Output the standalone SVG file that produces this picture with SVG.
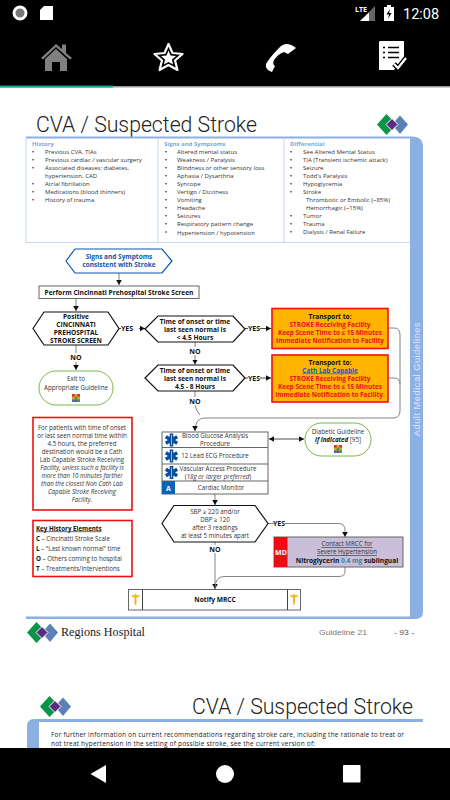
<svg xmlns="http://www.w3.org/2000/svg" width="450" height="800" viewBox="0 0 450 800">
<style>
text{font-family:"Open Sans","Liberation Sans",sans-serif;font-size:6.2px;fill:#333}
#history text,#signs text,#differential text{font-size:6px}
.m{text-anchor:middle}
.b{font-weight:700;fill:#111;font-size:6.600px}
.yn{font-weight:700;fill:#111;font-size:7px}
.h{font-weight:700;fill:#7fa6dc}
.t{font-family:Roboto,"Liberation Sans",sans-serif;font-weight:300;font-size:22.500px;fill:#222}
.red{fill:#e8101c;font-weight:700;font-size:6.400px}
.i{font-style:italic}
.u{text-decoration:underline}
.hex{fill:#fff;stroke:#111;stroke-width:1.200}
.box{fill:#fff;stroke:#666;stroke-width:1}
.rb{fill:#fff;stroke:#f01010;stroke-width:1.600}
.or{fill:#ffb400;stroke:#f01010;stroke-width:1.600}
.gr{fill:#fff;stroke:#7ab648;stroke-width:1}
.c{fill:none;stroke:#777;stroke-width:.9}
.c2{fill:none;stroke:#222;stroke-width:.8}
.tb{fill:none;stroke:#c5d6ee;stroke-width:1}
.w{fill:#fff}
.frame{fill:#8cb0e4}
.star{fill:#0a4ea2}
.gold{fill:#f4b41e}
</style>
<defs>
<marker id="a" markerWidth="6" markerHeight="6" refX="5" refY="3" orient="auto" markerUnits="userSpaceOnUse"><path d="M0 0.2L5 3L0 5.800Z" fill="#111"/></marker>
<marker id="s" markerWidth="6" markerHeight="6" refX="1" refY="3" orient="auto" markerUnits="userSpaceOnUse"><path d="M6 0.2L1 3L6 5.800Z" fill="#111"/></marker>
<g id="lg">
<path d="M0 10.500L9.500 0L19.500 10.500L9.500 21Z" fill="#0a9447"/>
<path d="M15 10.500L23 1.500L31 10.500L23 20Z" fill="#5b80b8"/>
<path d="M9 10.500L15 4.500L21 10.500L15 16.500Z" fill="#5a2d82" stroke="#fff"/>
</g>
<g id="grid">
<rect x="0" y="0" width="8" height="8" fill="#e8a020"/>
<rect x="0" y="0" width="2.600" height="2.600" fill="#d93030"/><rect x="5.400" y="0" width="2.600" height="2.600" fill="#d93030"/>
<rect x="2.700" y="2.700" width="2.600" height="2.600" fill="#30a050"/><rect x="0" y="5.400" width="2.600" height="2.600" fill="#3070c0"/>
<rect x="5.400" y="5.400" width="2.600" height="2.600" fill="#30a050"/><rect x="2.700" y="5.400" width="2.600" height="2.600" fill="#8a40a0"/>
</g>
<g id="sol">
<path d="M-1.800-6.500H1.800V-3L4.800-4.800L6.600-1.700L3.600 0L6.600 1.700L4.800 4.800L1.800 3V6.500H-1.800V3L-4.800 4.800L-6.600 1.700L-3.600 0L-6.600-1.700L-4.800-4.800L-1.800-3Z" class="star"/>
<path d="M0-5V5" stroke="#fff" stroke-width=".6"/>
</g>
<g id="cad">
<path d="M-4.500-4.500Q-2-3-1-4L0-5.500L1-4Q2-3 4.500-4.500L3-1.800H1V4.500L0 6.500L-1 4.500V-1.800H-3Z" class="gold"/>
</g>
</defs>

<rect width="450" height="800" fill="#fff"/>

<g id="status-bar">
<rect width="450" height="87" fill="#000"/>
<rect y="86" width="450" height="1.500" fill="#9a9a9a"/>
<rect y="85.500" width="113" height="2" fill="#12a594"/>
<circle cx="20" cy="13" r="6" fill="#777" stroke="#fff" stroke-width="3"/>
<path d="M44 6H53V20H40V10Z" class="w"/>
<text x="355" y="12" style="font-size:7px;font-weight:700;fill:#fff">LTE</text>
<path d="M375 6V21H360Z" fill="#666"/><path d="M369 12.500V21H360Z" class="w"/>
<path d="M387 5H391V7H394V21H384V7H387Z" class="w"/>
<path d="M390 9L386.500 14.500H389L388 19L391.500 13H389Z" fill="#000"/>
<text x="403" y="19" style="font-family:Roboto,sans-serif;font-size:14.500px;fill:#fff">12:08</text>
</g>

<g id="toolbar">
<path d="M41 58L56 44L62 49V44.500H66V53L72 58L70 59.500L56 47L43 59.500Z" fill="#808080"/>
<path d="M45 59L56 49L67 59V71H60V62H52V71H45Z" fill="#808080"/>
<path d="M168.500 44L172.500 53L182.500 54L175 60.500L177.500 70L168.500 65L159.500 70L162 60.500L154.500 54L164.500 53Z" fill="#000" stroke="#fff" stroke-width="2.200" stroke-linejoin="round"/>
<path d="M168.500 50.500L170.500 55.500L176 56L172 59.500L173 64.500L168.500 62L164 64.500L165 59.500L161 56L166.500 55.500Z" class="w"/>
<path d="M296 48Q286 40 279 48Q270 57 266 64Q265 70 272 72L275 66Q272 64 274 60Q278 54 284 52L288 54Z" class="w"/>
<path d="M381 41H403.500Q404 41 404 42V57L394 70H379V42Q379 41 381 41Z" class="w"/>
<path d="M383 47.500h2M388 47.500h11M383 52.500h2M388 52.500h11M383 57.500h2M388 57.500h11" stroke="#000" stroke-width="1.400"/>
<path d="M394 64L398 68L406 58" fill="none" stroke="#000" stroke-width="5"/>
<path d="M394 64L398 68L406 58" fill="none" stroke="#fff" stroke-width="2.200"/>
</g>

<text class="t" x="36" y="132" textLength="221" lengthAdjust="spacingAndGlyphs">CVA / Suspected Stroke</text>
<use href="#lg" x="377" y="114"/>

<g id="frame">
<path d="M26 136.500H412Q423 136.500 423 147V612Q423 619 416 619H26V616.500H410V138.500H26Z" class="frame"/>
<path d="M26 242.500H410M26 138V243M158 138V243M284 138V243" class="tb"/>
<text x="420" y="379" transform="rotate(-90 420 379)" class="m" style="font-family:'Liberation Sans',sans-serif;font-size:9.300px;letter-spacing:.5px;fill:#dfe9f8">Adult Medical Guidelines</text>
</g>

<g id="history">
<text class="h" x="32" y="146">History</text>
<g fill="#222"><circle cx="33" cy="151.700" r=".8"/><circle cx="33" cy="159.700" r=".8"/><circle cx="33" cy="167.700" r=".8"/><circle cx="33" cy="183.700" r=".8"/><circle cx="33" cy="191.700" r=".8"/><circle cx="33" cy="199.700" r=".8"/></g>
<text x="45" y="154">Previous CVA, TIAs</text>
<text x="45" y="162">Previous cardiac / vascular surgery</text>
<text x="45" y="170">Associated diseases:  diabetes,</text>
<text x="45" y="178">hypertension, CAD</text>
<text x="45" y="186">Atrial fibrillation</text>
<text x="45" y="194">Medications (blood thinners)</text>
<text x="45" y="202">History of trauma</text>
</g>

<g id="signs">
<text class="h" x="164" y="146">Signs and Symptoms</text>
<g fill="#222"><circle cx="166" cy="151.700" r=".8"/><circle cx="166" cy="159.700" r=".8"/><circle cx="166" cy="167.700" r=".8"/><circle cx="166" cy="175.700" r=".8"/><circle cx="166" cy="183.700" r=".8"/><circle cx="166" cy="191.700" r=".8"/><circle cx="166" cy="199.700" r=".8"/><circle cx="166" cy="207.700" r=".8"/><circle cx="166" cy="215.700" r=".8"/><circle cx="166" cy="223.700" r=".8"/><circle cx="166" cy="232" r=".8"/></g>
<text x="177" y="154">Altered mental status</text>
<text x="177" y="162">Weakness / Paralysis</text>
<text x="177" y="170">Blindness or other sensory loss</text>
<text x="177" y="178">Aphasia / Dysarthria</text>
<text x="177" y="186">Syncope</text>
<text x="177" y="194">Vertigo / Dizziness</text>
<text x="177" y="202">Vomiting</text>
<text x="177" y="210">Headache</text>
<text x="177" y="218">Seizures</text>
<text x="177" y="226">Respiratory pattern change</text>
<text x="177" y="234.500">Hypertension / hypotension</text>
</g>

<g id="differential">
<text class="h" x="290" y="146">Differential</text>
<g fill="#222"><circle cx="291" cy="151.700" r=".8"/><circle cx="291" cy="159.700" r=".8"/><circle cx="291" cy="167.700" r=".8"/><circle cx="291" cy="175.700" r=".8"/><circle cx="291" cy="183.700" r=".8"/><circle cx="291" cy="191.700" r=".8"/><circle cx="291" cy="215.700" r=".8"/><circle cx="291" cy="223.700" r=".8"/><circle cx="291" cy="231.700" r=".8"/></g>
<text x="303" y="154">See Altered Mental Status</text>
<text x="303" y="162">TIA (Transient ischemic attack)</text>
<text x="303" y="170">Seizure</text>
<text x="303" y="178">Todd's Paralysis</text>
<text x="303" y="186">Hypoglycemia</text>
<text x="303" y="194">Stroke</text>
<text x="306" y="202">Thrombotic or Embolic (~85%)</text>
<text x="306" y="210">Hemorrhagic (~15%)</text>
<text x="303" y="218">Tumor</text>
<text x="303" y="226">Trauma</text>
<text x="303" y="234">Dialysis / Renal Failure</text>
</g>

<g id="connectors">
<path class="c" d="M119 273V285" marker-end="url(#a)"/>
<path class="c" d="M76 298V311" marker-end="url(#a)"/>
<path class="c2" d="M119 328.500H121M139 328.500H145" marker-end="url(#a)"/>
<path class="c" d="M76 345V353M76 362V370" marker-end="url(#a)"/>
<path class="c" d="M195 342V347M195 355V364.500" marker-end="url(#a)"/>
<path class="c" d="M195 391V397M195 405Q196 411 200 415"/>
<path class="c2" d="M245 328.500H248M260 328.500H271" marker-end="url(#a)"/>
<path class="c2" d="M245 378H248M260 378H271" marker-end="url(#a)"/>
<path class="c" d="M388 328H394Q400 328 400 335V411Q400 418 393 418H205Q195 418 195 431" marker-end="url(#a)"/>
<path class="c" d="M388 378H394Q400 378 400 384"/>
<path class="c2" d="M269 439H304" marker-start="url(#s)" marker-end="url(#a)"/>
<path class="c" d="M215 494V505" marker-end="url(#a)"/>
<path class="c" d="M268 523.500H274M285 523.500H338Q345 523.500 345 530V537" marker-end="url(#a)"/>
<path class="c" d="M215 542V545M215 553V589" marker-end="url(#a)"/>
<path class="c" d="M345 567V571Q345 576.500 339 576.500H224Q215 576.500 215 589"/>
</g>

<g id="n-signs">
<path d="M66 261L75 249H162L172 261L162 273H75Z" fill="#fff" stroke="#0a55b0" stroke-width="1.200"/>
<text class="m" x="119" y="259" style="font-weight:700;fill:#0a55b0;font-size:6.500px">Signs and Symptoms</text>
<text class="m" x="119" y="267" style="font-weight:700;fill:#0a55b0;font-size:6.500px">consistent with Stroke</text>
</g>
<g id="n-perform">
<rect class="box" x="39" y="286" width="160" height="12.500"/>
<text class="m b" x="119" y="294.500">Perform Cincinnati Prehospital Stroke Screen</text>
</g>
<g id="n-positive">
<path class="hex" d="M33 328.500L44 312H108L119 328.500L108 345H44Z"/>
<text class="m b" x="76" y="318.500">Positive</text>
<text class="m b" x="76" y="326.500">CINCINNATI</text>
<text class="m b" x="76" y="334.500">PREHOSPITAL</text>
<text class="m b" x="76" y="342.500">STROKE SCREEN</text>
</g>
<text class="yn" x="121" y="331">YES</text>
<text class="yn m" x="76" y="360">NO</text>
<g id="n-exit">
<rect class="gr" x="39" y="371" width="74" height="34" rx="17"/>
<text class="m" x="76" y="381">Exit to</text>
<text class="m" x="76" y="390">Appropriate Guideline</text>
<use href="#grid" x="72" y="394"/>
</g>
<g id="n-time1">
<path class="hex" d="M145 329L158 316H233L245 329L233 342H158Z"/>
<text class="m b" x="195" y="323.500">Time of onset or time</text>
<text class="m b" x="195" y="331.500">last seen normal is</text>
<text class="m b" x="195" y="339.500">&lt; 4.5 Hours</text>
</g>
<text class="yn m" x="195" y="353.500">NO</text>
<g id="n-time2">
<path class="hex" d="M145 378L158 365H233L245 378L233 391H158Z"/>
<text class="m b" x="195" y="372.500">Time of onset or time</text>
<text class="m b" x="195" y="380.500">last seen normal is</text>
<text class="m b" x="195" y="388.500">4.5 - 8 Hours</text>
</g>
<text class="yn m" x="195" y="403.500">NO</text>
<text class="yn" x="248" y="331">YES</text>
<text class="yn" x="248" y="380.500">YES</text>

<g id="n-transport1">
<rect class="or" x="272" y="308.500" width="116" height="40"/>
<text class="m b" x="330" y="318.500">Transport to:</text>
<text class="m red" x="330" y="327">STROKE Receiving Facility</text>
<text class="m red" x="330" y="335">Keep Scene Time to ≤ 15 Minutes</text>
<text class="m red" x="330" y="343">Immediate Notification to Facility</text>
</g>
<g id="n-transport2">
<rect class="or" x="272" y="355" width="116" height="47"/>
<text class="m b" x="330" y="364.500">Transport to:</text>
<text class="m u" x="330" y="372.500" style="font-weight:700;font-size:6.400px;fill:#0a60b0">Cath Lab Capable</text>
<text class="m red" x="330" y="380.500">STROKE Receiving Facility</text>
<text class="m red" x="330" y="388.500">Keep Scene Time to ≤ 15 Minutes</text>
<text class="m red" x="330" y="396.500">Immediate Notification to Facility.</text>
</g>

<g id="n-note">
<rect class="rb" x="33" y="417.500" width="99" height="92.500"/>
<text class="m" x="82" y="430">For patients with time of onset</text>
<text class="m" x="82" y="438">or last seen normal time within</text>
<text class="m" x="82" y="446">4.5 hours, the preferred</text>
<text class="m" x="82" y="454">destination would be a Cath</text>
<text class="m" x="82" y="462">Lab Capable Stroke Receiving</text>
<text class="m i" x="82" y="470">Facility, unless such a facility is</text>
<text class="m i" x="82" y="478">more than 10 minutes farther</text>
<text class="m i" x="82" y="486">than the closest Non Cath Lab</text>
<text class="m i" x="82" y="494">Capable Stroke Receiving</text>
<text class="m i" x="82" y="501.500">Facility.</text>
</g>
<g id="n-key">
<rect class="rb" x="33" y="520.500" width="99" height="56"/>
<text class="u" x="36" y="530.500" style="font-weight:700;fill:#111">Key History Elements</text>
<text x="36" y="540.500"><tspan style="font-weight:700;fill:#111">C</tspan> – Cincinatti Stroke Scale</text>
<text x="36" y="550.500"><tspan style="font-weight:700;fill:#111">L</tspan> – "Last known normal" time</text>
<text x="36" y="560.500"><tspan style="font-weight:700;fill:#111">O</tspan> – Others coming to hospital</text>
<text x="36" y="570.500"><tspan style="font-weight:700;fill:#111">T</tspan> – Treatments/Interventions</text>
</g>

<g id="n-procedures">
<rect class="box" x="162" y="432" width="106" height="62"/>
<path d="M162 447.500H268M162 464H268M162 481H268" stroke="#666" stroke-width="1"/>
<use href="#sol" x="171.500" y="440"/>
<use href="#sol" x="171.500" y="456"/>
<use href="#sol" x="171.500" y="472.500"/>
<rect x="162" y="481" width="13" height="13" fill="#0a64b4"/>
<text class="m" x="168.500" y="490.500" style="font-weight:700;fill:#fff;font-size:7px">A</text>
<text class="m" x="215" y="437.500">Blood Glucose Analysis</text>
<text class="m" x="215" y="445.500">Procedure</text>
<text class="m" x="215" y="458">12 Lead ECG Procedure</text>
<text class="m" x="218" y="470.500">Vascular Access Procedure</text>
<text class="m" x="218" y="478.500">(<tspan class="i">18g or larger preferred</tspan>)</text>
<text class="m" x="221" y="489.500">Cardiac Monitor</text>
</g>
<g id="n-diabetic">
<rect class="gr" x="305" y="423" width="66" height="33" rx="16.500"/>
<text class="m" x="338" y="433.500">Diabetic Guideline</text>
<text class="m" x="338" y="441.500"><tspan class="i" style="font-weight:700;fill:#111">if indicated</tspan> [95]</text>
<use href="#grid" x="334" y="445"/>
</g>
<g id="n-sbp">
<path class="hex" d="M162 523.500L174 505.500H255L268 523.500L255 542H174Z"/>
<text class="m" x="215" y="513.500">SBP ≥ 220 and/or</text>
<text class="m" x="215" y="521.500">DBP ≥ 120</text>
<text class="m" x="215" y="529.500">after 3 readings</text>
<text class="m" x="215" y="537.500">at least 5 minutes apart</text>
</g>
<text class="yn" x="273" y="526">YES</text>
<text class="yn m" x="215" y="551.500">NO</text>
<g id="n-md">
<rect x="274" y="537" width="129" height="30" fill="#c9bfd8" stroke="#666" stroke-width="1"/>
<rect x="274" y="537" width="13.500" height="30" fill="#f00a14"/>
<text class="m" x="281" y="554.500" style="font-weight:700;fill:#fff;font-size:7px">MD</text>
<text class="m u" x="347" y="546">Contact MRCC for</text>
<text class="m u" x="347" y="554">Severe Hypertension</text>
<text class="m b" x="347" y="562.500">Nitroglycerin <tspan style="fill:#2a8aa8">0.4 mg</tspan> sublingual</text>
</g>
<g id="n-notify">
<rect class="box" x="128.500" y="589.500" width="172" height="20.500"/>
<path d="M142.500 589.500V610M287.500 589.500V610" stroke="#444" stroke-width="1"/>
<use href="#cad" x="135.500" y="599"/>
<use href="#cad" x="294" y="599"/>
<text class="m b" x="215" y="602">Notify MRCC</text>
</g>

<g id="footer">
<use href="#lg" x="27" y="622"/>
<text x="61" y="636" style="font-family:'Liberation Serif',serif;font-size:11.500px;fill:#222" textLength="84" lengthAdjust="spacingAndGlyphs">Regions Hospital</text>
<text x="319" y="635" style="font-family:'Liberation Sans',sans-serif;font-size:8px;fill:#777" textLength="48" lengthAdjust="spacingAndGlyphs">Guideline 21</text>
<text x="394" y="635" style="font-family:'Liberation Sans',sans-serif;font-size:8px;fill:#555" textLength="20" lengthAdjust="spacingAndGlyphs">- 93 -</text>
</g>

<g id="next-page">
<use href="#lg" x="40" y="696"/>
<text class="t" x="192" y="713.500" textLength="221" lengthAdjust="spacingAndGlyphs">CVA / Suspected Stroke</text>
<path d="M423 719H34Q27 719 27 727V748H39V722H423Z" class="frame"/>
<text x="51" y="737" textLength="353" lengthAdjust="spacing" style="font-size:6.500px;fill:#222">For further information on current recommendations regarding stroke care, including the rationale to treat or</text>
<text x="51" y="745.500" textLength="264" lengthAdjust="spacing" style="font-size:6.500px;fill:#222">not treat hypertension in the setting of possible stroke, see the current version of:</text>
</g>

<g id="nav-bar">
<rect y="748" width="450" height="52" fill="#000"/>
<path d="M90.500 774L106 765V783Z" class="w"/>
<circle cx="225" cy="774" r="9" class="w"/>
<rect x="343" y="765" width="17.500" height="17.500" rx="1" class="w"/>
</g>
</svg>
